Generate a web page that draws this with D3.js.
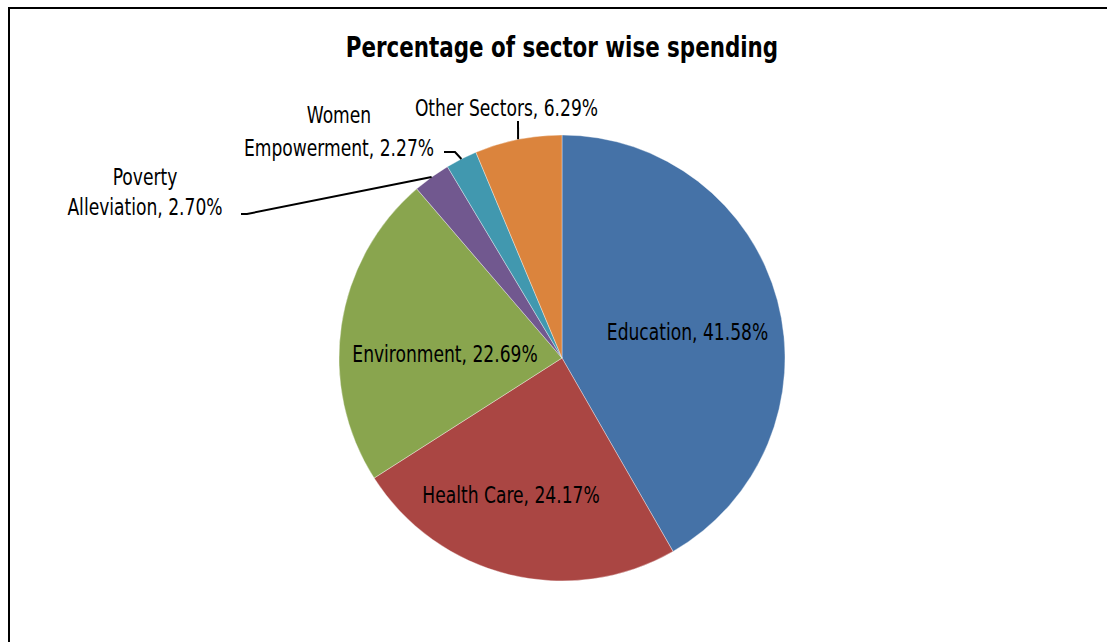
<!DOCTYPE html>
<html>
<head>
<meta charset="utf-8">
<script src="https://cdn.jsdelivr.net/npm/d3@7"></script>
<style>
  html, body { margin: 0; padding: 0; background: #fff; }
  svg { display: block; }
  text { font-family: "DejaVu Sans Condensed", "Liberation Sans Narrow", sans-serif; fill: #000; }
</style>
</head>
<body>
<svg id="chart" width="1107" height="642"></svg>
<script>
// Sector spending shares (%)
const categories = ["Education", "Health Care", "Environment", "Poverty Alleviation", "Women Empowerment", "Other Sectors"];
const shares = [41.58, 24.17, 22.69, 2.70, 2.27, 6.29];
const sliceColors = ["#4572A7", "#AA4643", "#89A54E", "#71588F", "#4198AF", "#DB843D"];
const chartTitle = "Percentage of sector wise spending";

const W = 1107, H = 642;
const cx = 562, cy = 358, radius = 223;
const narrow = 0.81;      // horizontal squeeze for the condensed label face

const svg = d3.select("#chart");

// Chart frame
svg.append("path")
  .attr("d", `M9,${H} L9,8 L${W},8`)
  .attr("fill", "none")
  .attr("stroke", "#000")
  .attr("stroke-width", 2);

// Title
svg.append("text")
  .attr("transform", `translate(562,57) scale(0.85,1)`)
  .attr("text-anchor", "middle")
  .attr("font-weight", "bold")
  .attr("font-size", 28)
  .text(chartTitle);

const data = categories.map((c, i) => ({ name: c, value: shares[i], color: sliceColors[i] }));

const pie = d3.pie().sort(null).value(d => d.value);
const arcs = pie(data);

const arc = d3.arc().innerRadius(0).outerRadius(radius);
const rim = d3.arc().innerRadius(radius).outerRadius(radius);

const g = svg.append("g").attr("transform", `translate(${cx},${cy})`);

g.selectAll("path.slice")
  .data(arcs)
  .join("path")
  .attr("class", "slice")
  .attr("d", arc)
  .attr("fill", d => d.data.color)
  .attr("stroke", "#fff")
  .attr("stroke-opacity", 0.6)
  .attr("stroke-width", 0.6);

// Label placement, relative to pie centre: text anchor point, line baselines,
// and for callouts the leader elbow and end.
const labelLayout = {
  "Education":           { x: 125.5, y: [-18] },
  "Health Care":         { x: -51,   y: [145] },
  "Environment":         { x: -117,  y: [4] },
  "Poverty Alleviation": { x: -417,  y: [-173, -143], lines: 2, leader: [[-315, -144], [-321, -144]] },
  "Women Empowerment":   { x: -223,  y: [-235, -202], lines: 2, leader: [[-107, -206], [-118, -206]] },
  "Other Sectors":       { x: -55.5, y: [-242], leader: [[-44, -237]] }
};

const fmt = v => v.toFixed(2) + "%";

const labels = g.append("g");

arcs.forEach(a => {
  const L = labelLayout[a.data.name];
  let lines;
  if (L.lines === 2) {
    const sp = a.data.name.indexOf(" ");
    lines = [a.data.name.slice(0, sp), a.data.name.slice(sp + 1) + ", " + fmt(a.data.value)];
  } else {
    lines = [a.data.name + ", " + fmt(a.data.value)];
  }
  const t = labels.append("text")
    .attr("transform", `translate(${L.x},0) scale(${narrow},1)`)
    .attr("text-anchor", "middle")
    .attr("font-size", 23.5);
  lines.forEach((ln, i) => {
    t.append("tspan").attr("x", 0).attr("y", L.y[i]).text(ln);
  });

  if (L.leader) {
    const start = rim.centroid(a);
    const pts = [start].concat(L.leader);
    labels.append("path")
      .attr("d", d3.line()(pts))
      .attr("fill", "none")
      .attr("stroke", "#000")
      .attr("stroke-width", 2);
  }
});
</script>
</body>
</html>
